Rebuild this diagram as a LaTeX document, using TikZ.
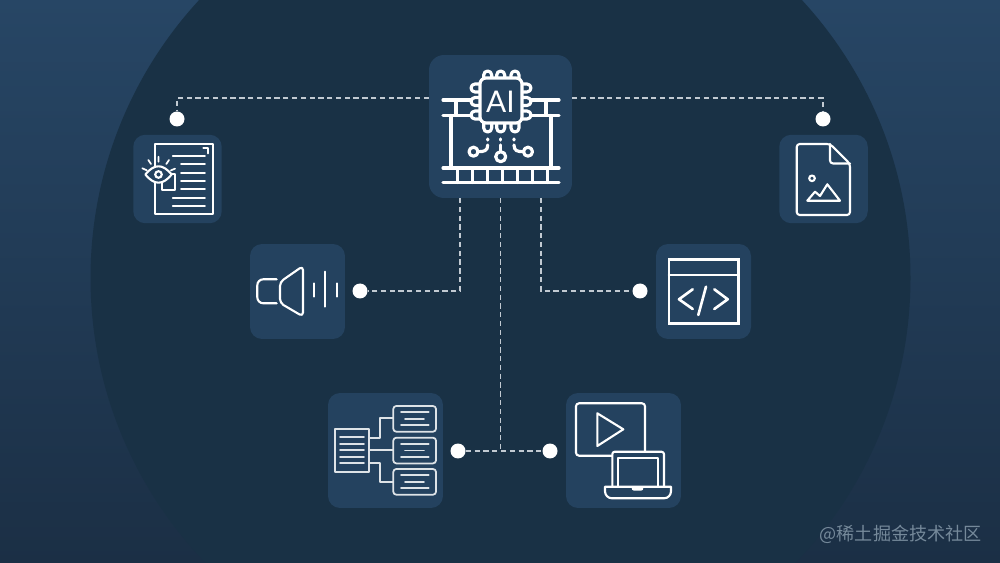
\documentclass[tikz,border=0pt]{standalone}
\usepackage{fontspec}
\setmainfont{Lato}
\newfontfamily\cjk{Noto Sans CJK SC}
\usetikzlibrary{positioning}
\definecolor{bgtop}{HTML}{274665}
\definecolor{bgbot}{HTML}{1B2F45}
\definecolor{disc}{HTML}{193145}
\definecolor{tile}{HTML}{24425F}
\definecolor{markgrey}{HTML}{75899A}
\begin{document}
\begin{tikzpicture}[x=0.02cm, y=-0.02cm,
    tilebox/.style={fill=tile, rounded corners=2.4mm, inner sep=0pt},
    dotnode/.style={circle, fill=white, minimum size=0.3cm, inner sep=0pt},
    link/.style={white!72!tile, line width=0.6pt, dash pattern=on 3pt off 2pt},
    icon/.style={white, line width=1.8pt, line join=round, line cap=round},
    thin icon/.style={white, line width=1.2pt, line join=round, line cap=round},
    soft icon/.style={white!85!tile, line width=1pt, line join=round, line cap=round}]
    % Background
    \useasboundingbox (0,0) rectangle (1000,563);
    \shade[top color=bgtop, bottom color=bgbot] (0,0) rectangle (1000,563);
    \clip (0,0) rectangle (1000,563);
    \fill[disc] (500.5,278) circle (410);

    % Tiles
    \node[tilebox, minimum size=2.86cm, rounded corners=3mm] (hub) at (500.5,126.5) {};
    \node[tilebox, minimum size=1.77cm] (docTile) at (177.5,179) {};
    \node[tilebox, minimum size=1.77cm] (imgTile) at (823.5,179) {};
    \node[tilebox, minimum size=1.9cm] (audioTile) at (297.5,291.5) {};
    \node[tilebox, minimum size=1.9cm] (codeTile) at (703.5,291.5) {};
    \node[tilebox, minimum size=2.3cm] (treeTile) at (385.5,450.5) {};
    \node[tilebox, minimum size=2.3cm] (videoTile) at (623.5,450.5) {};

    % Dots
    \node[dotnode] (docDot) at (177,119) {};
    \node[dotnode] (imgDot) at (823,119) {};
    \node[dotnode] (audioDot) at (360,291) {};
    \node[dotnode] (codeDot) at (640,291) {};
    \node[dotnode] (treeDot) at (458,451) {};
    \node[dotnode] (videoDot) at (550,451) {};

    % Links
    \coordinate (hubL) at (429,98);
    \coordinate (hubR) at (572,98);
    \coordinate (hubA) at (460,198);
    \coordinate (hubB) at (541,198);
    \coordinate (hubC) at (500.5,198);
    \coordinate (joint) at (500.5,451);
    \draw[link] (hubL) -| (docDot);
    \draw[link] (hubR) -| (imgDot);
    \draw[link] (hubA) |- (audioDot);
    \draw[link] (hubB) |- (codeDot);
    \draw[link] (hubC) -- (joint);
    \draw[link] (treeDot) -- (videoDot);

    % Chip
    \foreach \x in {487.7,500.7,515} {
        \draw[icon] (\x-4,78) -- (\x-4,75) arc (180:360:4) -- (\x+4,78);
        \draw[icon] (\x-4,123) -- (\x-4,128) arc (180:0:4) -- (\x+4,123);
    }
    \foreach \y in {88,101.5,115} {
        \draw[icon] (480,\y+4) -- (475,\y+4) arc (90:270:4) -- (480,\y-4);
        \draw[icon] (522,\y+4) -- (527,\y+4) arc (90:-90:4) -- (522,\y-4);
    }
    \draw[icon, fill=tile, rounded corners=1.2mm] (480,78) rectangle (522,123);
    \node[white, font=\fontsize{17}{17}\selectfont, inner sep=0pt] (chipText) at (500.5,102) {AI};

    % Rails of the hub
    \draw[icon] (443,100) -- (471,100) (443,115.5) -- (471,115.5);
    \draw[icon] (531,100) -- (559,100) (531,115.5) -- (559,115.5);
    \draw[icon] (456,100) -- (456,115.5) (546,100) -- (546,115.5);
    \draw[icon] (451,115.5) -- (451,168) (551,115.5) -- (551,168);
    \draw[icon] (443,168) -- (559,168) (443,182.5) -- (559,182.5);
    \foreach \i in {0,...,6} {
        \draw[icon] (457.3+15*\i,168) -- (457.3+15*\i,182.5);
    }

    % Circuit of the hub
    \draw[icon] (500.7,156.7) circle (5);
    \draw[icon] (473.5,151.7) circle (4.5);
    \draw[icon] (528,151.7) circle (4.5);
    \draw[icon] (500.7,139) -- (500.7,140) (500.7,145) -- (500.7,151.5);
    \draw[icon] (487.7,139) -- (487.7,140) (487.7,145) .. controls (487.7,151) and (484,151.7) .. (478,151.7);
    \draw[icon] (514,139) -- (514,140) (514,145) .. controls (514,151) and (517.5,151.7) .. (523.5,151.7);

    % Document with eye
    \draw[thin icon, line width=1pt] (155,144) rectangle (212.7,214.3);
    \draw[thin icon] (203.3,148.3) -- (208.3,148.3) -- (208.3,153.3);
    \foreach \y in {156,197.7,206} {
        \draw[thin icon, line width=1pt] (172.7,\y) -- (205,\y);
    }
    \foreach \y in {164.3,172.7,181,189.3} {
        \draw[thin icon, line width=1pt] (181,\y) -- (205,\y);
    }
    \draw[thin icon, line width=1pt, fill=tile] (162.3,178) -- (162.3,190) -- (175,190) -- (175,174) -- (169,174);
    \draw[thin icon, fill=tile] (145.3,174.5) .. controls (150,169) and (154,166.3) .. (158.5,166.3) .. controls (163,166.3) and (167,169) .. (171.7,174.5) .. controls (167,180) and (163,182.7) .. (158.5,182.7) .. controls (154,182.7) and (150,180) .. (145.3,174.5) -- cycle;
    \draw[thin icon] (158.5,174.5) circle (3.3);
    \draw[thin icon, line width=1pt] (142.3,168.3) -- (146.7,170.3) (148.3,160) -- (151,164) (158.5,156.7) -- (158.5,161.7) (169,160) -- (166.3,164) (175,168.7) -- (171,170.3);

    % Image file
    \draw[thin icon, rounded corners=0.6mm] (830,144) -- (796.7,144) -- (796.7,215) -- (850,215) -- (850,164) -- cycle;
    \draw[thin icon, rounded corners=0.6mm] (830,144) -- (830,163.5) -- (850,163.5);
    \draw[thin icon] (812,178.3) circle (2.8);
    \draw[thin icon] (807.3,200.7) -- (815,191.7) -- (820,196) -- (827.3,184.3) -- (840,200.7) -- cycle;

    % Speaker
    \draw[thin icon, rounded corners=1.2mm] (276.7,279.3) -- (257.3,279.3) -- (257.3,303.3) -- (276.7,303.3);
    \draw[thin icon, rounded corners=0.8mm] (280,282) -- (303,266) -- (303,316.5) -- (280,303) -- cycle;
    \draw[thin icon] (314,283.5) -- (314,296.5) (325.3,271.7) -- (325.3,306.7) (336.7,283.5) -- (336.7,296.5);

    % Code window
    \draw[thin icon, line width=1.5pt, line join=miter] (669,259.3) rectangle (738.3,323.3);
    \draw[thin icon, line width=1.5pt] (669,275) -- (738.3,275);
    \draw[thin icon, line width=1.5pt] (692.7,289.3) -- (679,299.3) -- (692.7,309);
    \draw[thin icon, line width=1.5pt] (706,286.7) -- (698.3,315);
    \draw[thin icon, line width=1.5pt] (714.3,289.3) -- (727.7,299.3) -- (714.3,309);

    % Tree of boxes
    \draw[soft icon] (335,429.3) rectangle (369,471.7);
    \foreach \y in {437.3,444,450.3,456.7,463.3} {
        \draw[soft icon] (340,\y) -- (364,\y);
    }
    \foreach \y in {406,437.7,469} {
        \draw[soft icon, rounded corners=0.6mm] (393.3,\y) rectangle (436,\y+25.7);
        \draw[soft icon] (401,\y+6.3) -- (428.7,\y+6.3) (405,\y+12.7) -- (424,\y+12.7) (401,\y+19) -- (428.7,\y+19);
    }
    \draw[soft icon] (369,437.7) -- (380,437.7) -- (380,418.3) -- (393.3,418.3);
    \draw[soft icon] (369,450.3) -- (393.3,450.3);
    \draw[soft icon] (369,462.7) -- (380,462.7) -- (380,481.7) -- (393.3,481.7);

    % Video and laptop
    \draw[thin icon, rounded corners=0.6mm] (612,455.7) -- (576,455.7) -- (576,403.3) -- (645,403.3) -- (645,451.7);
    \draw[thin icon] (597.3,413.3) -- (623.3,429.3) -- (597.3,446) -- cycle;
    \draw[thin icon, rounded corners=0.5mm] (612.3,486.7) -- (612.3,451.7) -- (664,451.7) -- (664,486.7);
    \draw[thin icon] (618.3,486.7) -- (618.3,458.3) -- (657.7,458.3) -- (657.7,486.7);
    \draw[thin icon] (605,486.7) -- (671,486.7) {[rounded corners=1.4mm] -- (671,498.3) -- (605,498.3)} -- cycle;
    \fill[white, rounded corners=0.4mm] (631.7,486.7) rectangle (643.3,490.5);

    % Watermark
    \node[text=markgrey, font=\cjk\fontsize{10.3}{12}\selectfont, anchor=east, inner sep=0pt] (watermark) at (982,534) {@稀土掘金技术社区};
\end{tikzpicture}
\end{document}
